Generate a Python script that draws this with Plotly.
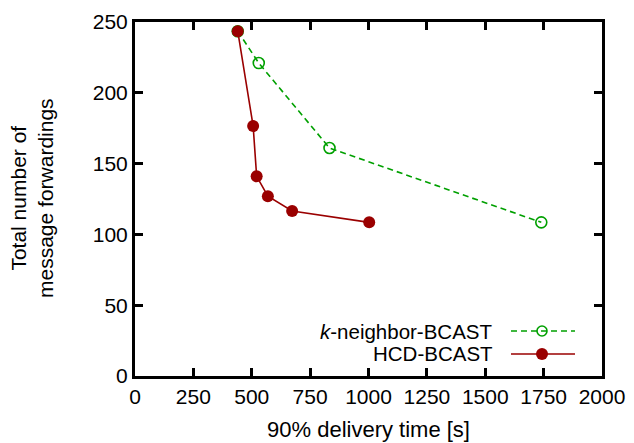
import plotly.graph_objects as go

# Data
hcd_time = [440, 506, 521, 569, 673, 1003]
hcd_fwd = [243.5, 176.5, 141, 127, 116.5, 108.5]
knb_time = [440, 530, 833, 1740]
knb_fwd = [243.5, 221, 161, 108.5]
series_names = ["k-neighbor-BCAST", "HCD-BCAST"]
x_ticks = [0, 250, 500, 750, 1000, 1250, 1500, 1750, 2000]
y_ticks = [0, 50, 100, 150, 200, 250]

GREEN = "#00a000"
RED = "#9a0000"
FONT = "Liberation Sans, Arial, sans-serif"

# page body has an 8px margin
OFF = 8
FIG_W, FIG_H = 634 - OFF, 443 - OFF

fig = go.Figure()
fig.add_trace(go.Scatter(
    x=knb_time, y=knb_fwd, mode="lines+markers", name=series_names[0],
    line=dict(color=GREEN, width=1.6, dash="6px,4px"),
    marker=dict(symbol="circle-open", size=11, color=GREEN, line=dict(width=1.6, color=GREEN)),
    showlegend=False))
fig.add_trace(go.Scatter(
    x=hcd_time, y=hcd_fwd, mode="lines+markers", name=series_names[1],
    line=dict(color=RED, width=1.6),
    marker=dict(symbol="circle", size=12, color=RED),
    showlegend=False))

axis_common = dict(showline=True, linecolor="black", linewidth=3, mirror="ticks",
                   ticks="inside", ticklen=8, tickwidth=2.5, tickcolor="black",
                   showgrid=False, zeroline=False, automargin=False,
                   tickfont=dict(family=FONT, size=21, color="black"))

fig.update_xaxes(range=[0, 2000], tickvals=x_ticks, ticktext=[str(v) for v in x_ticks],
                 title=dict(text="90% delivery time [s]", font=dict(family=FONT, size=22, color="black"), standoff=15),
                 **axis_common)
fig.update_yaxes(range=[0, 250], tickvals=y_ticks, ticktext=[str(v) for v in y_ticks],
                 **axis_common)

# target pixel positions in the screenshot
W0, W1, H0, H1 = 135, 602, 22, 376
pw, ph = W1 - W0, H1 - H0

def px(x):
    return (x - W0) / pw

def py(y):
    return (H1 - y) / ph

annotations = [
    dict(text="Total number of<br>message forwardings", xref="paper", yref="paper",
         x=px(32), y=py(198), textangle=-90, showarrow=False,
         font=dict(family=FONT, size=21, color="black"), xanchor="center", yanchor="middle"),
    dict(text="<i>k</i>-neighbor-BCAST", xref="paper", yref="paper", x=px(495), y=py(331),
         xanchor="right", yanchor="middle", showarrow=False, font=dict(family=FONT, size=20.5, color="black")),
    dict(text="HCD-BCAST", xref="paper", yref="paper", x=px(495), y=py(353.5),
         xanchor="right", yanchor="middle", showarrow=False, font=dict(family=FONT, size=20.5, color="black")),
]

shapes = [
    dict(type="line", xref="paper", yref="paper", x0=px(511), x1=px(575), y0=py(331), y1=py(331),
         line=dict(color=GREEN, width=1.6, dash="6px,4px")),
    dict(type="circle", xref="paper", yref="paper", xsizemode="pixel", ysizemode="pixel",
         xanchor=px(542), yanchor=py(331), x0=-5, x1=5, y0=-5, y1=5,
         line=dict(color=GREEN, width=1.6), fillcolor="rgba(0,0,0,0)"),
    dict(type="line", xref="paper", yref="paper", x0=px(511), x1=px(575), y0=py(354), y1=py(354),
         line=dict(color=RED, width=1.6)),
    dict(type="circle", xref="paper", yref="paper", xsizemode="pixel", ysizemode="pixel",
         xanchor=px(542), yanchor=py(354), x0=-6, x1=6, y0=-6, y1=6,
         line=dict(color=RED, width=0), fillcolor=RED),
]

fig.update_layout(width=FIG_W, height=FIG_H, autosize=False,
                  margin=dict(l=W0 - OFF, r=634 - W1, t=H0 - OFF, b=443 - H1),
                  paper_bgcolor="white", plot_bgcolor="white",
                  annotations=annotations, shapes=shapes, showlegend=False)

fig.write_html("out.html", config={"displayModeBar": False})
